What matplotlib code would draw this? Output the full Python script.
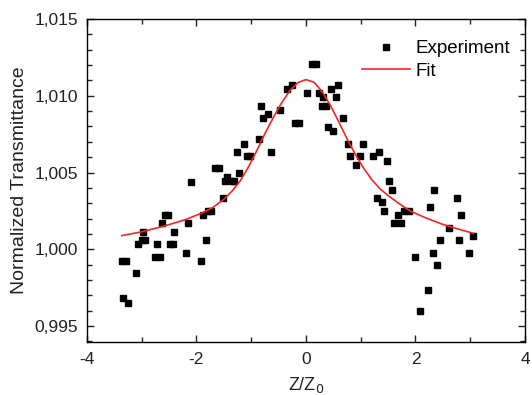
import matplotlib
matplotlib.use("Agg")
import matplotlib.pyplot as plt
from matplotlib.ticker import MultipleLocator, FuncFormatter

plt.rcParams['font.family'] = ['Liberation Sans', 'DejaVu Sans']
plt.rcParams['axes.unicode_minus'] = False

x_exp = [-3.360, -3.281, -3.330, -3.239, -3.104, -3.062, -2.989, -2.934, -2.976,
         -2.752, -2.661, -2.710, -2.619, -2.578, -2.515, -2.487, -2.429, -2.400,
         -2.186, -2.144, -2.095, -1.918, -1.870, -1.827, -1.779, -1.730, -1.657,
         -1.593, -1.511, -1.474, -1.432, -1.352, -1.310, -1.214, -1.261, -1.122,
         -1.082, -1.027, -0.854, -0.818, -0.776, -0.684, -0.641, -0.471, -0.338,
         -0.257, -0.197, -0.119, 0.016, 0.108, 0.192, 0.235, 0.319, 0.290, 0.369,
         0.460, 0.551, 0.593, 0.673, 0.411, 0.502, 0.776, 1.038, 0.807, 0.989,
         0.916, 1.221, 1.341, 1.476, 1.524, 1.568, 1.294, 1.396, 1.432, 1.615,
         1.688, 1.737, 1.792, 1.874, 1.998, 2.084, 2.224, 2.266, 2.345, 2.316,
         2.400, 2.449, 2.619, 2.754, 2.838, 2.801, 2.974, 3.057]
y_exp = [0.99926, 0.99926, 0.99681, 0.99652, 0.99844, 1.00033, 1.00061, 1.00061, 1.00115,
         0.99952, 0.99952, 1.00033, 1.00171, 1.00224, 1.00224, 1.00033, 1.00033, 1.00115,
         0.99979, 1.00169, 1.00441, 0.99924, 1.00224, 1.00061, 1.00252, 1.00252, 1.00527,
         1.00527, 1.00332, 1.00442, 1.00473, 1.00442, 1.00442, 1.00499, 1.00636, 1.00686,
         1.00606, 1.00606, 1.00717, 1.00934, 1.00853, 1.00879, 1.00636, 1.00908, 1.01043,
         1.01067, 1.00825, 1.00825, 1.01016, 1.01207, 1.01207, 1.01017, 1.00995, 1.00934, 1.00934,
         1.01043, 1.00991, 1.01071, 1.00854, 1.00799, 1.00773, 1.00686, 1.00686, 1.00608, 1.00608,
         1.00550, 1.00608, 1.00634, 1.00578, 1.00443, 1.00387, 1.00332, 1.00305, 1.00252, 1.00169,
         1.00224, 1.00169, 1.00252, 1.00252, 0.99952, 0.99598, 0.99735, 1.00278, 1.00387, 0.99979,
         0.99898, 1.00061, 1.00141, 1.00332, 1.00224, 1.00061, 0.99979, 1.00087]

# fit curve
x_fit = [-3.36, -3.0, -2.6, -2.2, -1.9, -1.7, -1.5, -1.35, -1.2, -1.05, -0.9,
         -0.75, -0.6, -0.45, -0.3, -0.15, 0.0, 0.15, 0.3, 0.45, 0.6, 0.75,
         0.9, 1.05, 1.2, 1.35, 1.5, 1.7, 1.9, 2.2, 2.5, 2.8, 3.057]
y_fit = [1.00089, 1.00114, 1.00150, 1.00193, 1.00236, 1.00272, 1.00325, 1.00378,
         1.00445, 1.00535, 1.00640, 1.00752, 1.00855, 1.00950, 1.01030, 1.01085,
         1.01105, 1.01088, 1.01025, 1.00935, 1.00830, 1.00720, 1.00620, 1.00530,
         1.00455, 1.00395, 1.00350, 1.00298, 1.00250, 1.00203, 1.00162, 1.00130,
         1.00104]

fig = plt.figure(figsize=(5.32, 3.95), dpi=100)
ax = fig.add_axes([0.163, 0.134, 0.824, 0.818])

ax.plot(x_exp, y_exp, 's', color='black', ms=4.3, mec='black', label='Experiment')
ax.plot(x_fit, y_fit, '-', color='#ff2020', lw=1.2, label='Fit')

ax.set_xlim(-4, 4)
ax.set_ylim(0.99396, 1.015)
ax.xaxis.set_major_locator(MultipleLocator(2))
ax.xaxis.set_minor_locator(MultipleLocator(1))
ax.yaxis.set_major_locator(MultipleLocator(0.005))
ax.yaxis.set_minor_locator(MultipleLocator(0.001))
ax.xaxis.set_major_formatter(FuncFormatter(lambda v, p: '%d' % round(v)))
ax.yaxis.set_major_formatter(FuncFormatter(lambda v, p: ('%.3f' % v).replace('.', ',')))

ax.tick_params(which='both', direction='in', top=True, right=True, width=1.0,
               labelsize=12.5, colors='#222222')
ax.tick_params(axis='x', which='major', length=5, pad=7)
ax.tick_params(axis='y', which='major', length=5, pad=6)
ax.tick_params(which='minor', length=3.5)
for s in ax.spines.values():
    s.set_linewidth(1.0)

ax.set_ylabel('Normalized Transmittance', fontsize=14, color='#222222', labelpad=5)
ax.set_xlabel('Z/Z$_0$', fontsize=13, color='#222222', labelpad=6)

ax.legend(loc='upper right', frameon=False, fontsize=13.5, handlelength=2.6,
          handletextpad=0.25, borderaxespad=0.3, labelspacing=0.3,
          bbox_to_anchor=(0.995, 0.975))

fig.savefig('out.png', dpi=100)
